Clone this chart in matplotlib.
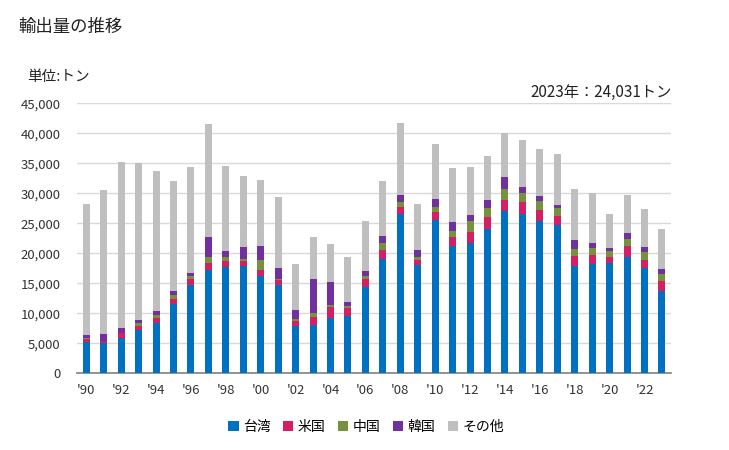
import matplotlib
matplotlib.use("Agg")
import matplotlib.pyplot as plt
import numpy as np

plt.rcParams['font.family'] = ['Noto Sans CJK JP', 'DejaVu Sans']

years = list(range(1990, 2024))
taiwan = [5200, 5000, 5900, 7200, 8330, 11560, 14670, 17220, 17670, 17890, 16220, 14670,
          7890, 8000, 9220, 9560, 14330, 19000, 26560, 18000, 25560, 21220, 21670, 24000,
          27000, 26560, 25330, 24670, 17890, 18220, 18330, 19330, 17560, 13670]
usa = [500, 330, 780, 630, 840, 770, 1000, 1110, 1000, 780, 950, 830,
       780, 1330, 1780, 1270, 1340, 1500, 1110, 830, 1270, 1450, 1830, 2000,
       1830, 1940, 1840, 1500, 1610, 1450, 1000, 1840, 1270, 1660]
china = [170, 50, 50, 500, 500, 670, 500, 1000, 660, 330, 1660, 170,
         330, 670, 330, 340, 500, 1170, 830, 500, 840, 1000, 1830, 1500,
         1840, 1500, 1500, 1330, 1170, 1160, 1000, 1160, 1340, 1170]
korea = [600, 1170, 770, 500, 660, 670, 500, 3340, 1000, 2000, 2340, 1830,
         1500, 5670, 3840, 660, 830, 1160, 1170, 1170, 1330, 1500, 1000, 1330,
         2000, 1000, 830, 500, 1500, 840, 500, 1000, 830, 830]
totals = [28170, 30500, 35170, 35000, 33670, 32000, 34330, 41500, 34500, 32830, 32170, 29330,
          18170, 22670, 21500, 19330, 25330, 32000, 41670, 28170, 38170, 34170, 34330, 36170,
          40000, 38830, 37330, 36500, 30670, 30000, 26500, 29670, 27330, 24031]
tick_labels = ["'90", "'92", "'94", "'96", "'98", "'00", "'02", "'04", "'06", "'08",
               "'10", "'12", "'14", "'16", "'18", "'20", "'22"]

names = ['台湾', '米国', '中国', '韓国', 'その他']
colors = ['#0070C0', '#D41F62', '#76923C', '#7030A0', '#BFBFBF']

parts = [np.array(taiwan), np.array(usa), np.array(china), np.array(korea)]
other = np.array(totals) - sum(parts)
parts.append(other)

fig = plt.figure(figsize=(7.29, 4.5), dpi=100)
ax = fig.add_axes([0.1056, 0.1704, 0.8144, 0.60])

x = np.arange(len(years))
bottom = np.zeros(len(years))
for vals, name, col in zip(parts, names, colors):
    ax.bar(x, vals, width=0.4, bottom=bottom, color=col, label=name, zorder=3)
    bottom = bottom + vals

ax.set_xlim(-0.53, 33.5)
ax.set_ylim(0, 45000)
ax.set_yticks(np.arange(0, 45001, 5000))
ax.set_yticklabels([f'{v:,}' for v in range(0, 45001, 5000)])
ax.set_xticks(x[::2])
ax.set_xticklabels(tick_labels)
ax.yaxis.grid(True, color='#D9D9D9', linewidth=1, zorder=0)
ax.set_axisbelow(True)
for s in ['left', 'right', 'top']:
    ax.spines[s].set_visible(False)
ax.spines['bottom'].set_color('#808080')
ax.spines['bottom'].set_linewidth(1.2)
ax.tick_params(axis='both', length=0, labelsize=9.5, colors='#333333')
ax.tick_params(axis='x', pad=8)
ax.tick_params(axis='y', pad=12)

fig.text(0.025, 0.94, '輸出量の推移', fontsize=12.5, color='#222222', va='center', ha='left')
fig.text(0.037, 0.828, '単位:トン', fontsize=10.5, color='#222222', va='center', ha='left')
fig.text(0.922, 0.795, '2023年：24,031トン', fontsize=11, color='#222222', va='center', ha='right')

leg = fig.legend(loc='center', bbox_to_anchor=(0.502, 0.052), ncol=5, frameon=False,
                 fontsize=10, handlelength=0.75, handleheight=0.75, handletextpad=0.3,
                 columnspacing=0.9)

fig.savefig('out.png', dpi=100)
